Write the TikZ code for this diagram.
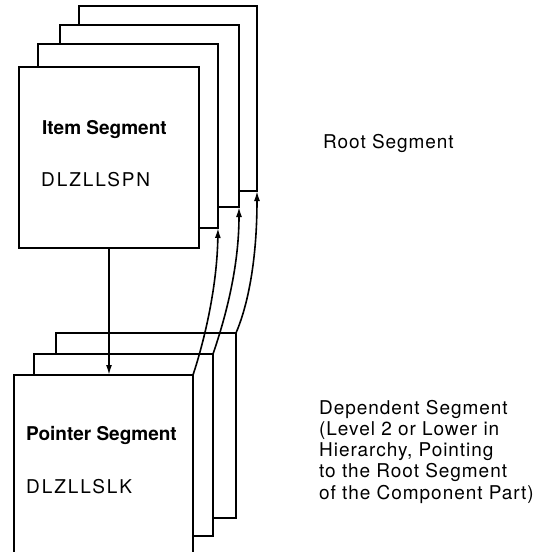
\documentclass[tikz,border=0pt]{standalone}
\usepackage{fontspec}
\setmainfont{TeX Gyre Heros}
\newfontfamily\spacedfont[LetterSpace=5]{TeX Gyre Heros}
\newfontfamily\codefont[LetterSpace=10]{TeX Gyre Heros}
\usetikzlibrary{arrows.meta}

\begin{document}
\begin{tikzpicture}[x=1pt,y=-1pt,
    seg/.style={draw, fill=white, line width=2pt, anchor=north west,
      inner sep=0pt, outer sep=0pt, minimum width=180pt, minimum height=182pt},
    link/.style={line width=1.6pt, -{Latex[length=10pt,width=6pt]}},
    txt/.style={inner sep=0pt, anchor=base west, font=\fontsize{19}{21.2}\selectfont}]
    \useasboundingbox (0,0) rectangle (542,552);
    \clip (0,0) rectangle (542,552);

    % pila superiore (root)
    \node[seg, minimum width=178pt, minimum height=185pt] (item4) at (79,6) {};
    \node[seg, minimum width=179pt] (item3) at (60,25) {};
    \node[seg, minimum height=184pt] (item2) at (38,44) {};
    \node[seg, minimum height=181pt] (item1) at (19,67) {};

    % pila inferiore (dependent)
    \node[seg, minimum height=185pt] (ptr3) at (56,333) {};
    \node[seg, minimum width=179pt] (ptr2) at (34,354) {};
    \node[seg, minimum width=179pt, minimum height=200pt] (ptr1) at (14,375) {};

    % testi nei segmenti
    \node[txt] (itemname) at (42,134) {\bfseries Item Segment};
    \node[txt] (itemcode) at (41,186) {\codefont DLZLLSPN};
    \node[txt] (ptrname) at (26,440.5) {\bfseries Pointer Segment};
    \node[txt] (ptrcode) at (26,493) {\codefont DLZLLSLK};

    % freccia verticale
    \draw[link] (item1.south) -- (item1.south |- ptr1.north);

    % puntatori curvi
    \draw[link] (ptr1.north east) .. controls (203,345) and (217,290) .. (item2.south east);
    \draw[link] (ptr2.north east) .. controls (224,322) and (239,270) .. (item3.south east);
    \draw[link] (ptr3.north east) .. controls (248,305) and (257,260) .. (item4.south east);

    % didascalie
    \node[txt] (root) at (323,148) {\spacedfont Root Segment};
    \node[txt, align=left] (dep) at (319,499) {\spacedfont Dependent Segment\\
      \spacedfont (Level 2 or Lower in\\
      \spacedfont Hierarchy, Pointing\\
      \spacedfont to the Root Segment\\
      \spacedfont of the Component Part)};
\end{tikzpicture}
\end{document}
